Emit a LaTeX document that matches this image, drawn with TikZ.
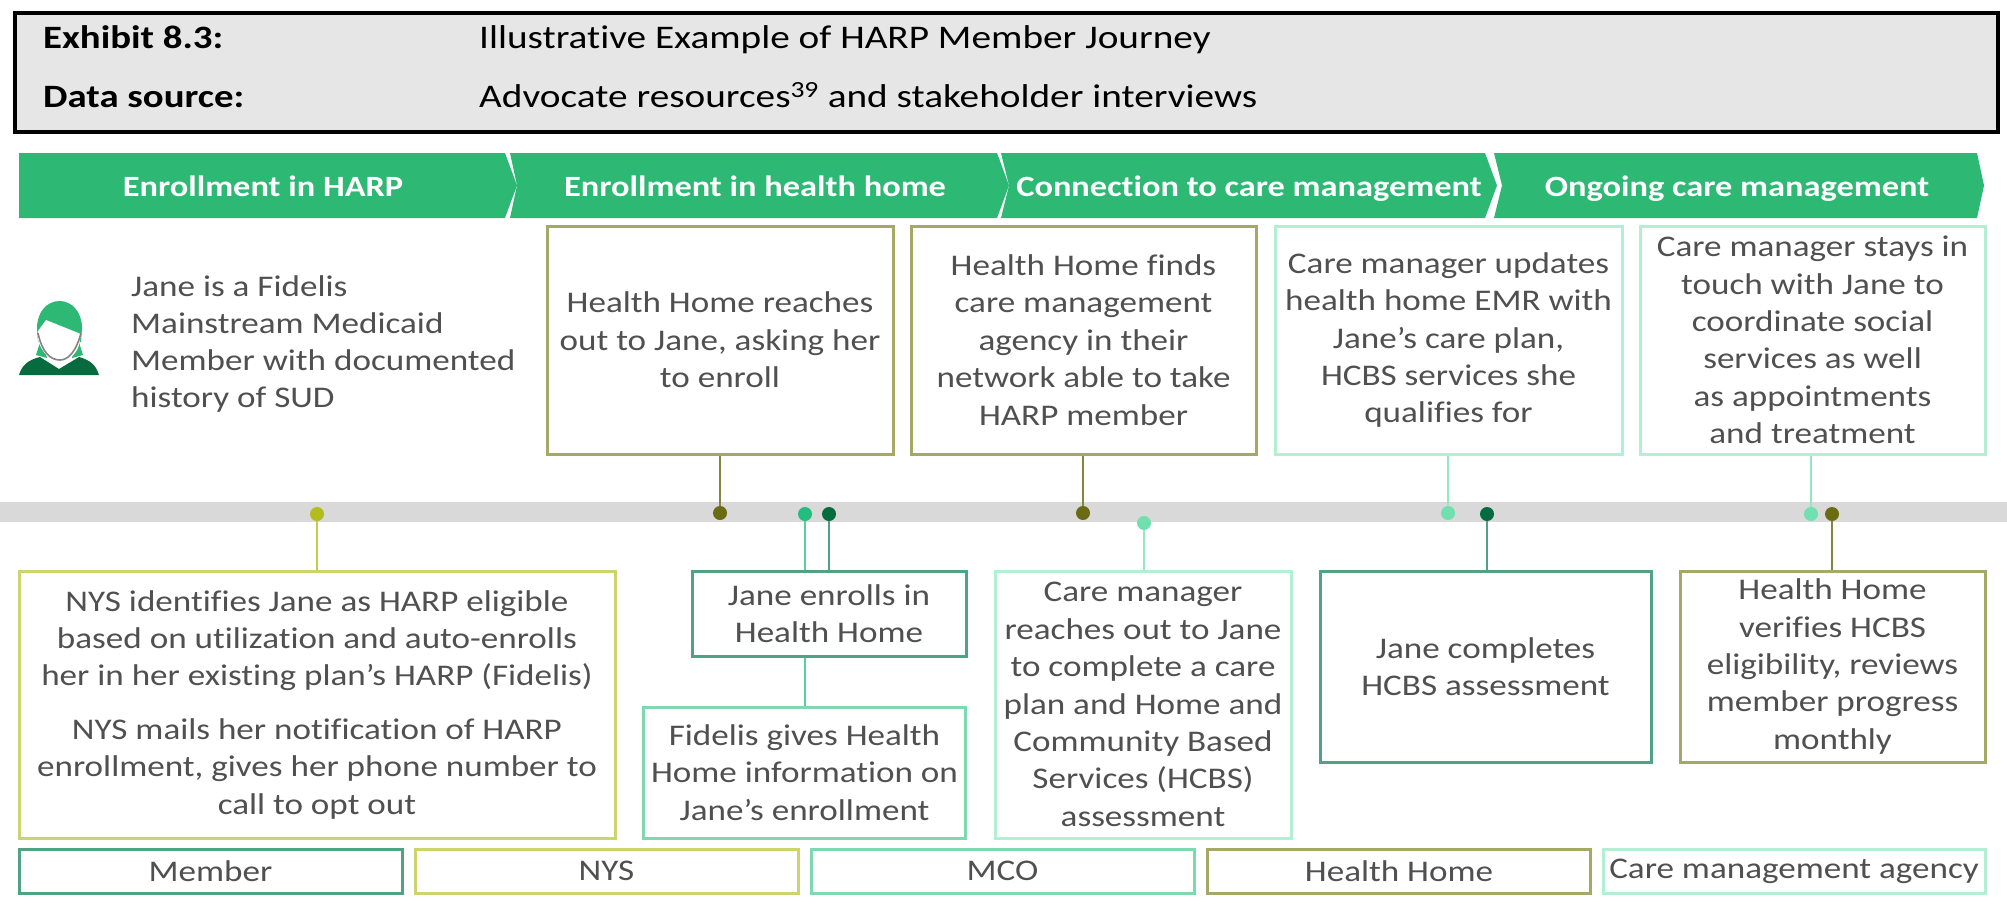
\documentclass[tikz,border=0pt]{standalone}
\usepackage{fontspec}
\setmainfont{Carlito}[FakeStretch=1.17,Ligatures=NoCommon]
\newfontfamily\hdrfont{Carlito}[FakeStretch=1.19,Ligatures=NoCommon]
\definecolor{chev}{HTML}{2DB873}
\definecolor{cMember}{HTML}{4FA384}
\definecolor{cNYS}{HTML}{CDD46E}
\definecolor{cMCO}{HTML}{7FD9AE}
\definecolor{cHH}{HTML}{A6A866}
\definecolor{cCM}{HTML}{B3EFD2}
\definecolor{dMember}{HTML}{066B3E}
\definecolor{dNYS}{HTML}{B2BC1C}
\definecolor{dMCO}{HTML}{24BC7F}
\definecolor{dHH}{HTML}{6B6B14}
\definecolor{dCM}{HTML}{6FE0AE}
\definecolor{lNYS}{HTML}{C4CA4A}
\definecolor{lHH}{HTML}{85863A}
\definecolor{lCM}{HTML}{93E8C2}
\definecolor{txt}{HTML}{505050}
\definecolor{hdr}{HTML}{E6E6E6}
\definecolor{band}{HTML}{D9D9D9}
\tikzset{
 hbox/.style={draw=black,line width=4pt,fill=hdr,inner sep=0pt},
 htext/.style={anchor=base west,inner sep=0pt,font=\hdrfont\fontsize{33}{38}\selectfont,text=black},
 chevshape/.style={fill=chev,draw=none},
 chevtext/.style={anchor=base,inner sep=0pt,text=white,font=\fontsize{29.4}{35}\selectfont\bfseries},
 bx/.style={draw=#1,line width=3pt,fill=white,inner sep=0pt,align=center,text=txt,
   font=\fontsize{30}{37.4}\selectfont,execute at begin node={\rule{0pt}{29pt}}},
 lg/.style={draw=#1,line width=3pt,fill=white,inner sep=0pt,align=center,text=txt,
   font=\fontsize{30}{37.4}\selectfont,minimum height=44pt},
 dot/.style={circle,fill=#1,draw=none,minimum size=14pt,inner sep=0pt},
 conn/.style={draw=#1,line width=2.4pt},
}
\begin{document}
\begin{tikzpicture}[x=1pt,y=-1pt]
\useasboundingbox (0,0) rectangle (2007,910);
\node[hbox,minimum width=1983pt,minimum height=119pt] (hb) at (1006.5,72.5) {};
\node[htext,font=\hdrfont\fontsize{32.6}{38}\selectfont\bfseries] (h1) at (43,48.5) {Exhibit 8.3:};
\node[htext,font=\hdrfont\fontsize{32.6}{38}\selectfont\bfseries] (h2) at (43,107) {Data source:};
\node[htext] (h3) at (479,48.5) {Illustrative Example of HARP Member Journey};
\node[htext] (h4) at (479,107) {Advocate resources\textsuperscript{39} and stakeholder interviews};
% chevrons
\fill[chevshape] (19,153) -- (505,153) -- (517,185.5) -- (505,218) -- (19,218) -- cycle;
\fill[chevshape] (510,153) -- (997,153) -- (1009,185.5) -- (997,218) -- (510,218) -- (517,185.5) -- cycle;
\fill[chevshape] (1001,153) -- (1485,153) -- (1497,185.5) -- (1485,218) -- (1001,218) -- (1009,185.5) -- cycle;
\fill[chevshape] (1494,153) -- (1977,153) -- (1984,185.5) -- (1977,218) -- (1494,218) -- (1502,185.5) -- cycle;
\node[chevtext] (c1) at (263,196) {Enrollment in HARP};
\node[chevtext] (c2) at (755,196) {Enrollment in health home};
\node[chevtext] (c3) at (1249,196) {Connection to care management};
\node[chevtext] (c4) at (1737,196) {Ongoing care management};
% band
\fill[band] (0,502) rectangle (2007,522);
% person icon
\fill[chev] (37,328) .. controls (37,312) and (47,301) .. (59.5,301) .. controls (72,301) and (82,312) .. (82,328) -- (81,342) -- (38,342) -- cycle;
\fill[chev] (42,336) -- (36,355) -- (47,358) -- cycle;
\fill[chev] (77,336) -- (83,355) -- (72,358) -- cycle;
\fill[white] (46,320) -- (81,334) -- (79,345) .. controls (76,355) and (68,361) .. (60,361) .. controls (50,361) and (42,353) .. (38,340) -- (38,331) -- cycle;
\draw[line width=1.6pt,color=txt!70] (38,333) .. controls (42,352) and (50,360) .. (60,360) .. controls (68,360) and (76,352) .. (81,333);
\fill[dMember] (19,375) .. controls (22,365) and (28,360) .. (40,357) -- (59,369) -- (79,357) .. controls (90,360) and (96,365) .. (99,375) -- cycle;
\node[inner sep=0pt,align=left,anchor=west,text=txt,font=\fontsize{30}{37}\selectfont] (jane) at (131,344) {Jane is a Fidelis\\Mainstream Medicaid\\Member with documented\\history of SUD};
% top boxes
\node[bx=cHH,minimum width=346pt,minimum height=228pt] (t1) at (720,340) {Health Home reaches\\out to Jane, asking her\\to enroll};
\node[bx=cHH,minimum width=345pt,minimum height=228pt] (t2) at (1083.5,340) {Health Home finds\\care management\\agency in their\\network able to take\\HARP member};
\node[bx=cCM,minimum width=347pt,minimum height=228pt] (t3) at (1448.5,340) {Care manager updates\\health home EMR with\\Jane's care plan,\\HCBS services she\\qualifies for};
\node[bx=cCM,minimum width=345pt,minimum height=228pt] (t4) at (1812.5,340) {Care manager stays in\\touch with Jane to\\coordinate social\\services as well\\as appointments\\and treatment};
% bottom boxes
\node[bx=cNYS,minimum width=596pt,minimum height=267pt] (b1) at (317,704.5) {NYS identifies Jane as HARP eligible\\based on utilization and auto-enrolls\\her in her existing plan's HARP (Fidelis)\\[16pt]NYS mails her notification of HARP\\enrollment, gives her phone number to\\call to opt out};
\node[bx=cMember,minimum width=274pt,minimum height=85pt] (b2) at (829,613.5) {Jane enrolls in\\Health Home};
\node[bx=cMCO,minimum width=322pt,minimum height=131pt] (b3) at (804.5,772.5) {Fidelis gives Health\\Home information on\\Jane's enrollment};
\node[bx=cCM,minimum width=296pt,minimum height=267pt] (b4) at (1143,704.5) {Care manager\\reaches out to Jane\\to complete a care\\plan and Home and\\Community Based\\Services (HCBS)\\assessment};
\node[bx=cMember,minimum width=331pt,minimum height=191pt] (b5) at (1485.5,666.5) {Jane completes\\HCBS assessment};
\node[bx=cHH,minimum width=305pt,minimum height=191pt] (b6) at (1832.5,666.5) {Health Home\\verifies HCBS\\eligibility, reviews\\member progress\\monthly};
% legend
\node[lg=cMember,minimum width=383pt] (l1) at (210.5,871) {Member};
\node[lg=cNYS,minimum width=383pt] (l2) at (606.5,871) {NYS};
\node[lg=cMCO,minimum width=383pt] (l3) at (1002.5,871) {MCO};
\node[lg=cHH,minimum width=383pt] (l4) at (1399,871) {Health Home};
\node[lg=cCM,minimum width=382pt] (l5) at (1794,871) {Care management agency};
% dots
\node[dot=dNYS] (d1) at (317,514) {};
\node[dot=dHH] (d2) at (720,513) {};
\node[dot=dMCO] (d3) at (805,514) {};
\node[dot=dMember] (d4) at (829,514) {};
\node[dot=dHH] (d5) at (1083,513) {};
\node[dot=dCM] (d6) at (1144,523) {};
\node[dot=dCM] (d7) at (1448,513) {};
\node[dot=dMember] (d8) at (1487,514) {};
\node[dot=dCM] (d9) at (1811,514) {};
\node[dot=dHH] (d10) at (1832,514) {};
% connectors
\draw[conn=lNYS] (d1.south) -- (d1 |- b1.north);
\draw[conn=lHH] (d2.north) -- (d2 |- t1.south);
\draw[conn=dMCO!75!white] (d3.south) -- (d3 |- b2.north);
\draw[conn=dMCO!75!white] (d3 |- b2.south) -- (d3 |- b3.north);
\draw[conn=cMember] (d4.south) -- (d4 |- b2.north);
\draw[conn=lHH] (d5.north) -- (d5 |- t2.south);
\draw[conn=lCM] (d6.south) -- (d6 |- b4.north);
\draw[conn=lCM] (d7.north) -- (d7 |- t3.south);
\draw[conn=cMember] (d8.south) -- (d8 |- b5.north);
\draw[conn=lCM] (d9.north) -- (d9 |- t4.south);
\draw[conn=lHH] (d10.south) -- (d10 |- b6.north);
\end{tikzpicture}
\end{document}
